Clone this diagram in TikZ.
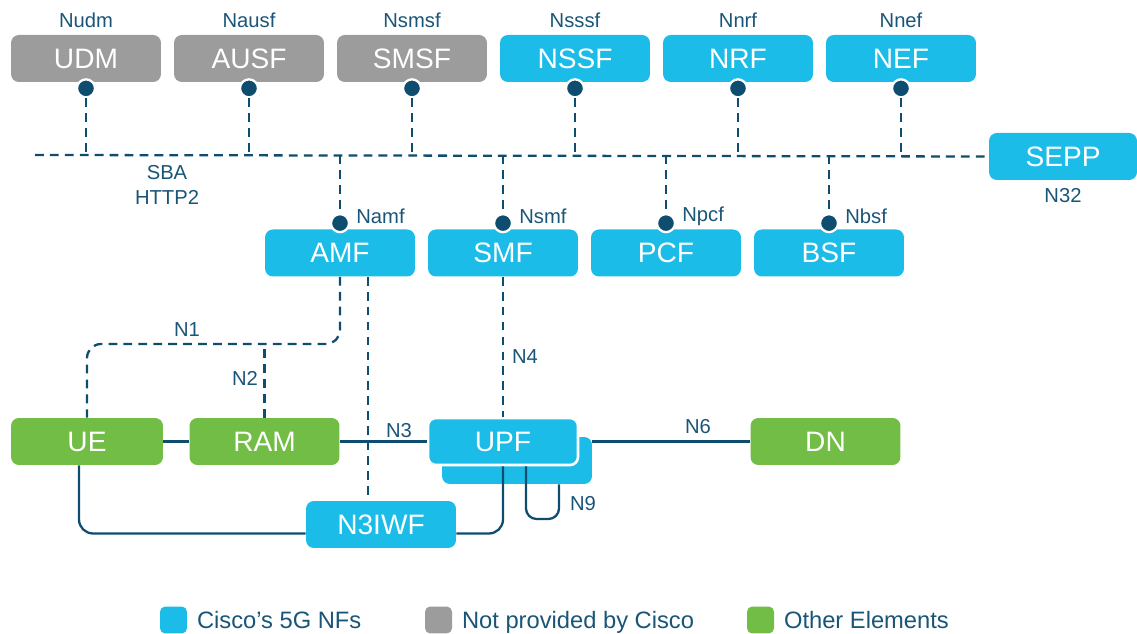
\documentclass[tikz,border=0pt]{standalone}
\usepackage{fontspec}
\setmainfont{Liberation Sans}
\usetikzlibrary{positioning, calc}

\definecolor{nfblue}{RGB}{27,189,232}
\definecolor{nfgrey}{RGB}{156,156,156}
\definecolor{nfgreen}{RGB}{114,189,69}
\definecolor{linkblue}{RGB}{14,77,112}
\definecolor{textblue}{RGB}{25,85,120}

\tikzset{
  nf/.style={rounded corners=4.5pt, minimum width=3cm, minimum height=0.94cm,
    inner sep=0pt, text=white, font=\fontsize{16}{18}\selectfont},
  ciscobox/.style={nf, fill=nfblue},
  elembox/.style={nf, fill=nfgreen},
  dot/.style={circle, fill=linkblue, draw=white, line width=1.3pt,
    minimum size=0.36cm, inner sep=0pt},
  lbl/.style={text=textblue, font=\fontsize{11.5}{14}\selectfont},
  sba/.style={draw=linkblue, line width=1.3pt, dash pattern=on 5pt off 3.5pt},
  link/.style={draw=linkblue, line width=1.3pt},
  legbox/.style={rounded corners=3pt, minimum size=0.54cm, inner sep=0pt},
  leg/.style={text=textblue, font=\fontsize{13.5}{16}\selectfont,
    text height=1.6ex, text depth=0.4ex, yshift=-0.06cm}
}

\begin{document}
\begin{tikzpicture}[x=0.02cm, y=-0.02cm]
  \useasboundingbox (0,0) rectangle (1137,634);
  \coordinate (busL) at (35,155);

  % SBA bus and SEPP
  \node[ciscobox, minimum width=2.96cm] (SEPP) at (1063,156.5) {SEPP};
  \node[lbl, below=1pt of SEPP] (n32) {N32};
  \draw[sba] (busL) -- (SEPP.west);
  \node[lbl, align=center] (sbalbl) at (167,185) {SBA\\HTTP2};

  % top row of NFs
  \foreach \nf/\iface/\col [count=\i from 0] in {UDM/Nudm/nfgrey, AUSF/Nausf/nfgrey,
      SMSF/Nsmsf/nfgrey, NSSF/Nsssf/nfblue, NRF/Nnrf/nfblue, NEF/Nnef/nfblue} {
    \node[nf, fill=\col] (\nf) at (86+163*\i, 58.5) {\nf};
    \node[lbl, above=0.5pt of \nf] {\iface};
    \node[dot] (d\nf) at ([yshift=-0.12cm]\nf.south) {};
    \draw[sba] (d\nf) -- (d\nf |- busL);
  }

  % middle row of NFs
  \foreach \nf/\iface [count=\i from 0] in {AMF/Namf, SMF/Nsmf, PCF/Npcf, BSF/Nbsf} {
    \node[ciscobox] (\nf) at (340+163*\i, 253) {\nf};
    \node[dot] (d\nf) at ([yshift=0.12cm]\nf.north) {};
    \node[lbl, right=0pt of d\nf, yshift=0.14cm] {\iface};
    \draw[sba] (d\nf |- busL) -- (d\nf);
  }

  % user plane
  \node[elembox, minimum width=3.04cm] (UE) at (87,441.5) {UE};
  \node[elembox] (RAM) at (264.5,441.5) {RAM};
  \node[ciscobox] (UPFb) at (517,460.5) {};
  \node[ciscobox, draw=white, line width=1.5pt] (UPF) at (503,441.5) {UPF};
  \node[elembox] (DN) at (825.5,441.5) {DN};
  \node[ciscobox] (N3IWF) at (381,524.5) {N3IWF};

  % control plane links
  \coordinate (n1) at (87,344);
  \draw[sba, rounded corners=8pt] (AMF.south) |- (n1) -- (UE.north);
  \draw[sba] (RAM.north) -- (RAM.north |- n1);
  \coordinate (a3) at ([xshift=0.56cm]AMF.south);
  \draw[sba] (a3) -- (a3 |- N3IWF.north);
  \draw[sba] (SMF.south) -- (UPF.north);

  % user plane links
  \draw[link] (UE) -- (RAM);
  \draw[link] (RAM) -- (UPF);
  \draw[link] (UPF.east -| UPFb.east) -- (DN.west);
  \draw[link, rounded corners=8pt] ([xshift=-0.16cm]UE.south) |- ([yshift=-0.18cm]N3IWF.west);
  \draw[link, rounded corners=8pt] (UPF.south) |- ([yshift=-0.18cm]N3IWF.east);
  \coordinate (n9a) at ([xshift=0.46cm]UPF.south);
  \coordinate (n9b) at (559,519);
  \draw[link, rounded corners=6pt] (n9a) |- (n9b) -- (n9b |- UPFb.south);

  % interface labels
  \node[lbl] (l1) at (187,330) {N1};
  \node[lbl] (l2) at (245,378) {N2};
  \node[lbl] (l3) at (399,431) {N3};
  \node[lbl] (l4) at (525,357) {N4};
  \node[lbl] (l6) at (698,427) {N6};
  \node[lbl] (l9) at (583,504) {N9};

  % legend
  \node[legbox, fill=nfblue] (kcisco) at (173.5,620) {};
  \node[leg, right=2pt of kcisco] {Cisco’s 5G NFs};
  \node[legbox, fill=nfgrey] (kext) at (438.5,620) {};
  \node[leg, right=2pt of kext] {Not provided by Cisco};
  \node[legbox, fill=nfgreen] (kelem) at (760.5,620) {};
  \node[leg, right=2pt of kelem] {Other Elements};
\end{tikzpicture}
\end{document}
